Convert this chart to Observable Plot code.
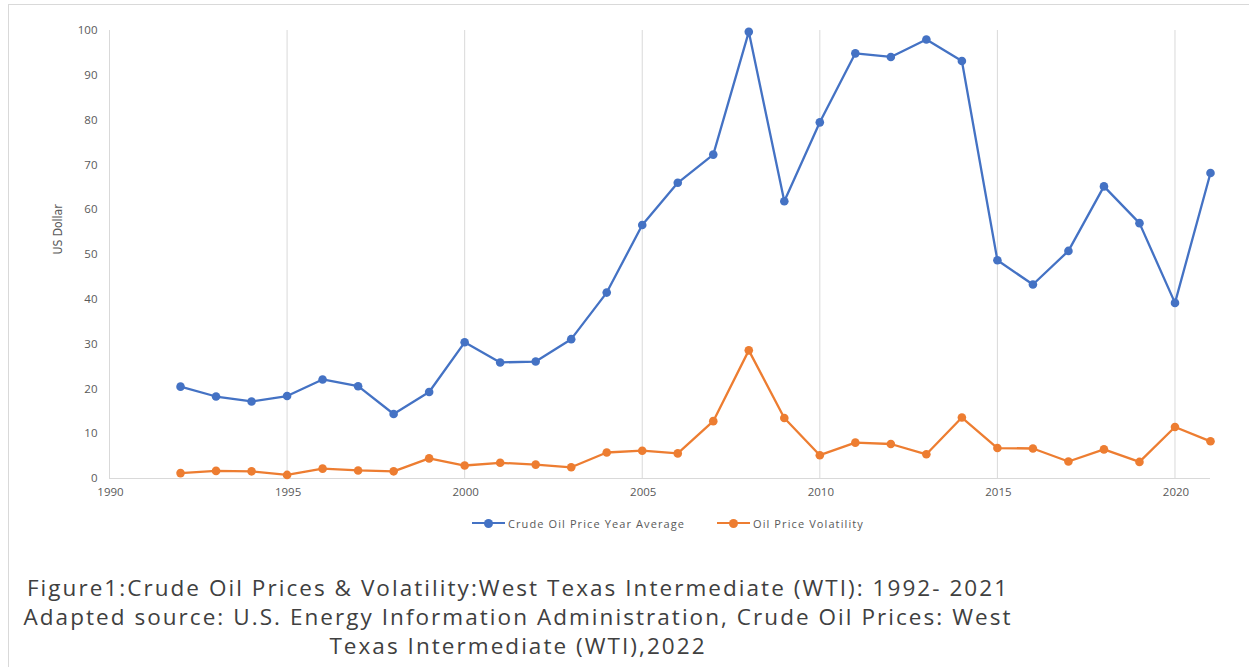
<!DOCTYPE html>
<html>
<head>
<meta charset="utf-8">
<script src="https://cdn.jsdelivr.net/npm/d3@7"></script>
<script src="https://cdn.jsdelivr.net/npm/@observablehq/plot@0.6"></script>
<style>
  html, body { margin: 0; padding: 0; background: #fff; width: 1249px; height: 667px; overflow: hidden; }
  #frame { position: absolute; left: 8px; top: 4px; width: 1260px; height: 700px; border: 1px solid #d9d9d9; box-sizing: border-box; }
  #chart { position: absolute; left: 0; top: 0; }
  #legend { position: absolute; top: 514px; left: 0; width: 1249px; height: 18px; font-family: "Open Sans", sans-serif; font-size: 11px; color: #595959; letter-spacing: 1.1px; }
  .item { position: absolute; top: 0; display: flex; align-items: center; height: 18px; white-space: nowrap; }
  .sw { position: relative; width: 33px; height: 18px; margin-right: 3px; }
  .sw .ln { position: absolute; left: 0; right: 0; top: 8px; height: 2.3px; }
  .sw .dt { position: absolute; left: 12px; top: 4.5px; width: 9px; height: 9px; border-radius: 50%; }
  #caption { position: absolute; left: 0px; top: 573px; width: 1036px; text-align: center; font-family: "Open Sans", sans-serif; font-size: 22.5px; letter-spacing: 2.05px; line-height: 29px; color: #404040; white-space: nowrap; }
</style>
</head>
<body>
<div id="frame"></div>
<div id="chart"></div>
<div id="legend"></div>
<div id="caption">Figure1:Crude Oil Prices &amp; Volatility:West Texas Intermediate (WTI): 1992- 2021<br>Adapted source: U.S. Energy Information Administration, Crude Oil Prices: West<br>Texas Intermediate (WTI),2022</div>
<script>
const years = [1992,1993,1994,1995,1996,1997,1998,1999,2000,2001,2002,2003,2004,2005,2006,2007,2008,2009,2010,2011,2012,2013,2014,2015,2016,2017,2018,2019,2020,2021];
const priceAverage = [20.5,18.3,17.2,18.4,22.1,20.6,14.4,19.3,30.4,25.9,26.1,31.1,41.5,56.6,66.0,72.3,99.7,61.9,79.5,94.9,94.1,98.0,93.2,48.7,43.3,50.8,65.2,57.0,39.2,68.2];
const volatility = [1.2,1.7,1.6,0.8,2.2,1.8,1.6,4.5,2.9,3.5,3.1,2.5,5.8,6.2,5.6,12.8,28.6,13.5,5.2,8.0,7.7,5.4,13.6,6.8,6.7,3.8,6.5,3.7,11.5,8.3];
const seriesNames = ["Crude Oil Price Year Average", "Oil Price Volatility"];
const seriesColors = ["#4472C4", "#ED7D31"];
const xTicks = [1990,1995,2000,2005,2010,2015,2020];
const yTicks = [0,10,20,30,40,50,60,70,80,90,100];

const data = [];
years.forEach((y, i) => {
  data.push({year: y, value: priceAverage[i], series: seriesNames[0]});
  data.push({year: y, value: volatility[i], series: seriesNames[1]});
});

const chart = Plot.plot({
  width: 1249,
  height: 500,
  marginLeft: 109,
  marginRight: 39,
  marginTop: 30,
  marginBottom: 22,
  style: {fontFamily: "'Open Sans', sans-serif", fontSize: "11.5px", color: "#595959", background: "transparent", overflow: "visible"},
  x: {domain: [1990, 2021], label: null},
  y: {domain: [0, 100], label: null},
  color: {domain: seriesNames, range: seriesColors},
  marks: [
    Plot.ruleX(xTicks, {stroke: "#d9d9d9", strokeWidth: 1, strokeOpacity: 1}),
    Plot.ruleY([0], {stroke: "#d9d9d9", strokeWidth: 1}),
    Plot.axisX({ticks: xTicks, tickFormat: "d", tickSize: 0, tickPadding: 9, dx: 1, label: null, fill: "#595959", style: "letter-spacing:1.7px"}),
    Plot.axisY({ticks: yTicks, tickSize: 0, tickPadding: 12, label: null, fill: "#595959", style: "letter-spacing:1.7px"}),
    Plot.line(data, {x: "year", y: "value", z: "series", stroke: "series", strokeWidth: 2.3}),
    Plot.dot(data, {x: "year", y: "value", fill: "series", r: 4.3, stroke: "none"}),
    Plot.text(["US Dollar"], {frameAnchor: "left", dx: -51, rotate: -90, fontSize: 12, fill: "#595959", fontFamily: "'Liberation Sans Narrow','DejaVu Sans Condensed',sans-serif", fontStretch: "condensed"})
  ]
});
document.getElementById("chart").appendChild(chart);

const legend = document.getElementById("legend");
const legendLeft = [472, 717];
seriesNames.forEach((name, i) => {
  const item = document.createElement("div");
  item.className = "item";
  item.style.left = legendLeft[i] + "px";
  item.innerHTML = `<div class="sw"><div class="ln" style="background:${seriesColors[i]}"></div><div class="dt" style="background:${seriesColors[i]}"></div></div><span>${name}</span>`;
  legend.appendChild(item);
});
</script>
</body>
</html>
